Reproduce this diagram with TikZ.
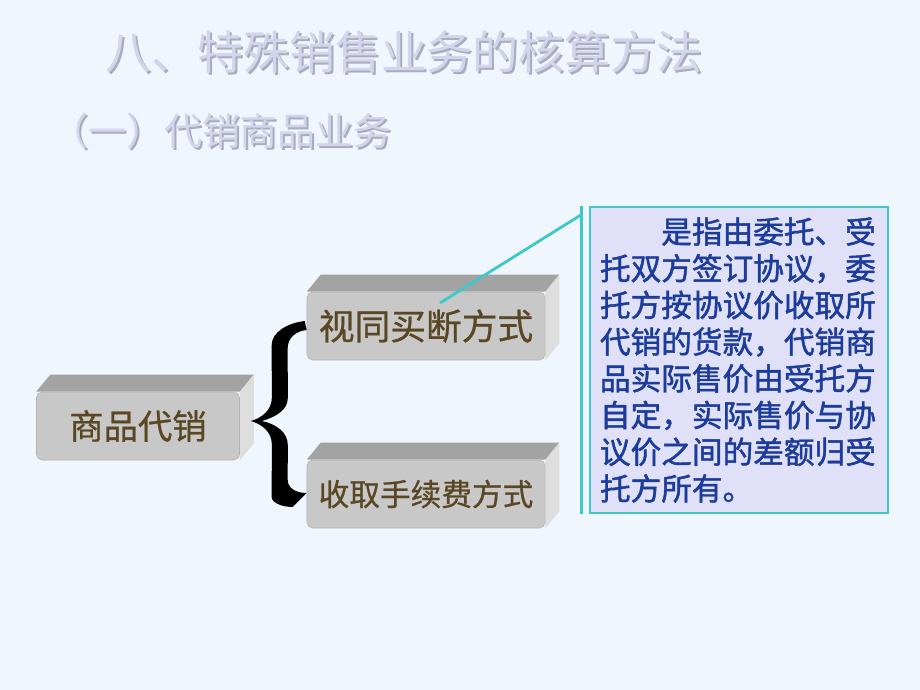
\documentclass[tikz,border=0pt]{standalone}
\usepackage{fontspec}
\newfontfamily\cjk{Noto Sans CJK SC}
\newfontfamily\cjkmid[FakeBold=0.7]{Noto Sans CJK SC}
\newfontfamily\cjkbold[FakeBold=1.5]{Noto Sans CJK SC}
\usetikzlibrary{calc}
\pgfdeclarelayer{paper}
\pgfdeclarelayer{bevel}
\pgfsetlayers{paper,bevel,main}

\definecolor{paperblue}{HTML}{EFF6FE}
\definecolor{facegray}{HTML}{C8C8C8}
\definecolor{topgray}{HTML}{A3A3A3}
\definecolor{sidegray}{HTML}{DEDEDE}
\definecolor{boxtext}{HTML}{594622}
\definecolor{notetext}{HTML}{1C3C9C}
\definecolor{notefill}{HTML}{E0E0F8}
\definecolor{turq}{HTML}{3EC8C8}
\definecolor{titlefill}{HTML}{D4D4EC}
\definecolor{titleshade}{HTML}{ABABBE}

% top and right faces of a raised box, kept behind the front face
\newcommand{\bevel}[1]{%
  \begin{pgfonlayer}{bevel}
    \fill[topgray] (#1.north west) -- ++(14,-17) -- ($(#1.north east)+(14,-17)$) -- (#1.north east) -- cycle;
    \fill[sidegray] (#1.north east) -- ++(14,-17) -- ($(#1.south east)+(14,-17)$) -- (#1.south east) -- cycle;
  \end{pgfonlayer}}

\begin{document}
\begin{tikzpicture}[x=0.025cm,y=-0.025cm,
    block/.style={draw=gray!60,fill=facegray,rounded corners=4pt,text=boxtext,
      minimum height=1.7cm,inner sep=0pt},
    wideblock/.style={block,minimum width=5.95cm},
    headline/.style={font=\cjk\fontsize{32.7}{36}\selectfont},
    subline/.style={font=\cjk\fontsize{27}{30}\selectfont},
    note/.style={draw=turq,line width=2pt,fill=notefill,text=notetext,align=left,
      text width=6.95cm,inner xsep=0.25cm,minimum width=7.45cm,minimum height=7.65cm,
      font=\cjkbold\fontsize{21.8}{26.1}\selectfont},
    brace/.style={fill=black},
    pointer/.style={turq,line width=2pt}]
  \begin{pgfonlayer}{paper}
    \fill[paperblue] (0,0) rectangle (920,690);
  \end{pgfonlayer}
  \useasboundingbox (0,0) rectangle (920,690);

  % headings, with a soft shadow under each
  \node[headline,text=titleshade] (titleshadow) at (406,54) {八、特殊销售业务的核算方法};
  \node[headline,text=titlefill] (title) at (404,52) {八、特殊销售业务的核算方法};
  \node[subline,text=titleshade] (subshadow) at (223,133) {（一）代销商品业务};
  \node[subline,text=titlefill] (subtitle) at (221,131) {（一）代销商品业务};

  % the three raised boxes
  \node[block,minimum width=5.075cm,font=\cjkmid\fontsize{24.4}{28}\selectfont] (src) at (138,426) {商品代销};
  \node[wideblock,font=\cjkmid\fontsize{25.4}{29}\selectfont] (buy) at (426,326) {视同买断方式};
  \node[wideblock,font=\cjkmid\fontsize{21.8}{25}\selectfont] (fee) at (426,494) {收取手续费方式};
  \bevel{src}
  \bevel{buy}
  \bevel{fee}

  % curly brace from the source box to both methods
  \fill[brace] ($(buy.west)+(-2,-5)$) .. controls +(-17,2) and +(0,-13) .. ++(-33,24)
    -- ($(src.east)+(32,-28)$) .. controls +(0,12) and +(11,-3) .. ($(src.east)+(11,-5)$)
    .. controls +(11,3) and +(0,-12) .. ($(src.east)+(32,18)$)
    -- ($(fee.west)+(-35,3)$) .. controls +(0,6) and +(-10,0) .. ($(fee.west)+(-14,13)$)
    -- ($(fee.west)+(0,-1)$) .. controls +(-11,0) and +(0,8) .. ($(fee.west)+(-19,-14)$)
    -- ($(src.east)+(48,19)$) .. controls +(0,-13) and +(14,3) .. ($(src.east)+(22,-5)$)
    .. controls +(14,-4) and +(0,12) .. ($(src.east)+(48,-28)$)
    -- ($(buy.west)+(-19,22)$) .. controls +(0,-10) and +(-11,1) .. ($(buy.west)+(0,4)$) -- cycle;

  % callout with its explanation
  \node[note] (note) at (739,360) {\hspace*{2em}是指由委托、受\\
    托双方签订协议，委\\
    托方按协议价收取所\\
    代销的货款，代销商\\
    品实际售价由受托方\\
    自定，实际售价与协\\
    议价之间的差额归受\\
    托方所有。};
  \draw[pointer] ($(note.north west)+(-7,0)$) coordinate (bartop) -- ($(note.south west)+(-7,0)$) coordinate (barbottom);
  \draw[pointer] ($(buy.center)+(14,-23)$) -- ($(bartop)+(0,9)$);
\end{tikzpicture}
\end{document}
